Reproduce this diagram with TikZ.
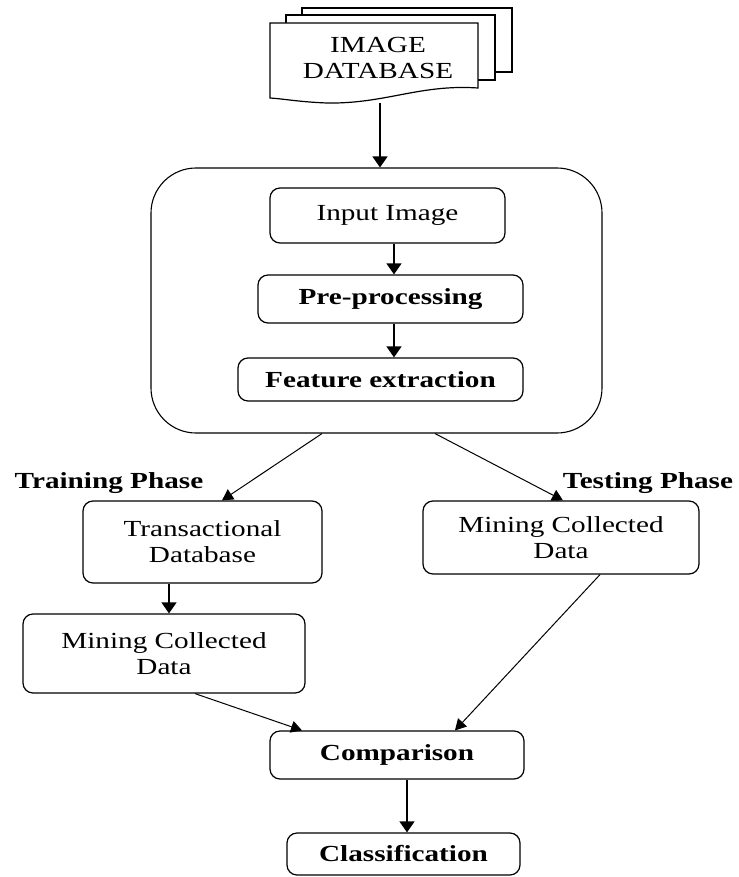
\documentclass[tikz,border=0pt]{standalone}
\usepackage{fontspec}
\setmainfont{Liberation Serif}[FakeStretch=1.27]
\usetikzlibrary{arrows.meta,calc}
\begin{document}
\begin{tikzpicture}[x=1pt,y=-1pt,
  txt/.style={font=\fontsize{23}{26}\selectfont, text=black, align=center, inner sep=0pt},
  box/.style={txt, draw=black, line width=1.2pt, rounded corners=10pt, fill=white},
  bbox/.style={box, font=\fontsize{23}{26}\selectfont\bfseries},
  arr/.style={line width=1.2pt, -{Triangle[length=11pt,width=15pt]}},
  darr/.style={line width=1pt, -{Triangle[length=11pt,width=12pt]}},
  docp/.style={draw=black, line width=1.2pt, fill=white}
]
\useasboundingbox (0,0) rectangle (738,877);
% stacked documents
\draw[docp] (302,8) rectangle (512,72);
\draw[docp] (286,15) rectangle (495,80);
\draw[docp] (270,23) -- (478,23) -- (478,88)
  .. controls (420,84) and (385,104) .. (327,103)
  .. controls (300,102) and (285,99) .. (270,98) -- cycle;
\node[txt] (db) at (378,58) {IMAGE\\DATABASE};
\coordinate (docb) at (380,103);
% big container
\node[draw=black, line width=1.1pt, rounded corners=45pt, minimum width=451pt, minimum height=265pt, inner sep=0pt] (cont) at (376.5,300.5) {};
\node[box, minimum width=235pt, minimum height=55pt] (inp) at (387.5,215.5) {Input Image};
\node[bbox, minimum width=265pt, minimum height=48pt] (pre) at (390.5,299) {Pre-processing};
\node[bbox, minimum width=285pt, minimum height=43pt] (fe) at (380.5,379.5) {Feature extraction};
% phases
\node[txt, font=\fontsize{23}{26}\selectfont\bfseries] (trl) at (109,483) {Training Phase};
\node[txt, font=\fontsize{23}{26}\selectfont\bfseries] (tel) at (648,483) {Testing Phase};
\node[box, minimum width=239pt, minimum height=82pt] (trans) at (202.5,542) {Transactional\\Database};
\node[box, minimum width=282pt, minimum height=79pt] (lmine) at (164,653.5) {Mining Collected\\Data};
\node[box, minimum width=276pt, minimum height=73pt] (rmine) at (561,537.5) {Mining Collected\\Data};
\node[bbox, minimum width=254pt, minimum height=48pt] (comp) at (397,755) {Comparison};
\node[bbox, minimum width=233pt, minimum height=42pt] (cls) at (403.5,854) {Classification};
% helper x positions
\coordinate (x1) at (380,0);
\coordinate (x2) at (394,0);
\coordinate (x3) at (322,0);
\coordinate (x4) at (222,0);
\coordinate (x5) at (435,0);
\coordinate (x6) at (563,0);
\coordinate (x7) at (169,0);
\coordinate (x8) at (195,0);
\coordinate (x9) at (302,0);
\coordinate (x10) at (600,0);
\coordinate (x11) at (455,0);
\coordinate (x12) at (407,0);
% connectors
\draw[arr] (docb) -- (cont.north -| x1);
\draw[arr] (inp.south -| x2) -- (pre.north -| x2);
\draw[arr] (pre.south -| x2) -- (fe.north -| x2);
\draw[darr] (cont.south -| x3) -- (trans.north -| x4);
\draw[darr] (cont.south -| x5) -- (rmine.north -| x6);
\draw[arr] (trans.south -| x7) -- (lmine.north -| x7);
\draw[darr] (lmine.south -| x8) -- (comp.north -| x9);
\draw[darr] (rmine.south -| x10) -- (comp.north -| x11);
\draw[arr] (comp.south -| x12) -- (cls.north -| x12);
\end{tikzpicture}
\end{document}
